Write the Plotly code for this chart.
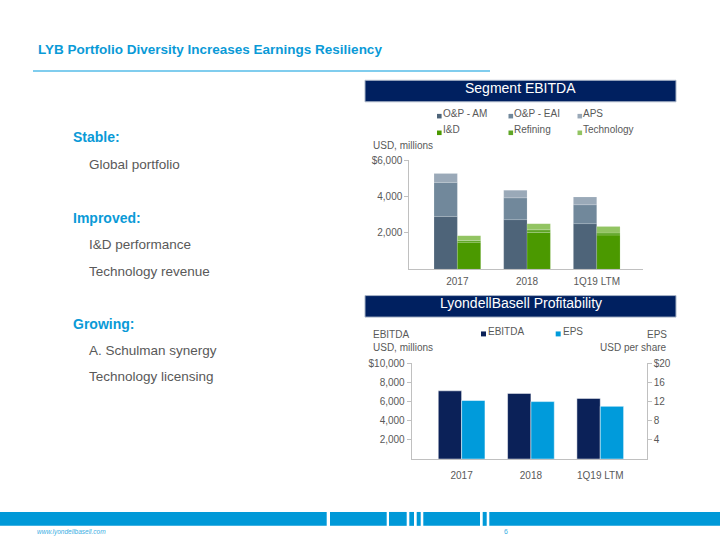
import numpy as np
import plotly.graph_objects as go

# ---------------- data ----------------
categories = ["2017", "2018", "1Q19 LTM"]

om_am = [2900, 2730, 2510]
om_eai = [1880, 1200, 1040]
aps = [490, 420, 430]
i_and_d = [1480, 2020, 1880]
refining = [100, 150, 120]
technology = [270, 340, 350]

ebitda = [7130, 6860, 6340]
eps = [12.23, 12.01, 11.02]

seg_tickvals = [2000, 4000, 6000]
seg_ticktext = ["2,000", "4,000", "$6,000"]
ebitda_tickvals = [2000, 4000, 6000, 8000, 10000]
ebitda_ticktext = ["2,000", "4,000", "6,000", "8,000", "$10,000"]
eps_tickvals = [4, 8, 12, 16, 20]
eps_ticktext = ["4", "8", "12", "16", "$20"]

# ---------------- styling ----------------
W, H = 720, 540
FONT = "Arial, Liberation Sans, sans-serif"
GREY_TXT = "#595959"
AXIS_COL = "#c0c0c0"
BLUE = "#0a9ad7"
NAVY = "#002060"

C_AM, C_EAI, C_APS = "#4e6479", "#71889b", "#9aa9b8"
C_ID, C_REF, C_TECH = "#4b9900", "#5fa626", "#92c462"
C_EBITDA, C_EPS = "#0b2158", "#009bdb"


def px(x):
    return x / W


def py(y):
    return 1 - y / H


fig = go.Figure()

# ---------------- Segment EBITDA (stacked, two stacks per category) ----------------
BW = 0.335
grey_series = [("O&P - AM", om_am, C_AM), ("O&P - EAI", om_eai, C_EAI), ("APS", aps, C_APS)]
green_series = [("I&D", i_and_d, C_ID), ("Refining", refining, C_REF), ("Technology", technology, C_TECH)]

for series, off in ((grey_series, -BW), (green_series, 0.0)):
    base = np.zeros(len(categories))
    for name, vals, col in series:
        fig.add_trace(go.Bar(
            x=categories, y=vals, base=base.tolist(), offset=off, width=BW,
            name=name, showlegend=False,
            marker=dict(color=col, line=dict(color="rgba(255,255,255,0.35)", width=0.4)),
            xaxis="x", yaxis="y",
        ))
        base = base + np.array(vals)

# ---------------- Profitability (EBITDA left axis, EPS right axis) ----------------
BW2 = 0.337
fig.add_trace(go.Bar(
    x=categories, y=ebitda, offset=-BW2, width=BW2, name="EBITDA", showlegend=False,
    marker=dict(color=C_EBITDA, line=dict(color="white", width=0.5)),
    xaxis="x2", yaxis="y2",
))
fig.add_trace(go.Bar(
    x=categories, y=eps, offset=0.0, width=BW2, name="EPS", showlegend=False,
    marker=dict(color=C_EPS, line=dict(color="white", width=0.5)),
    xaxis="x2", yaxis="y3",
))

tickfont = dict(family=FONT, size=10, color=GREY_TXT)
common_x = dict(type="category", showgrid=False, zeroline=False, showline=True,
                linecolor=AXIS_COL, linewidth=1, ticks="", tickfont=tickfont,
                fixedrange=True)
common_y = dict(showgrid=False, zeroline=False, showline=True, linecolor=AXIS_COL,
                linewidth=1, ticks="outside", ticklen=4, tickcolor=AXIS_COL,
                tickwidth=1, tickfont=tickfont, fixedrange=True)

fig.update_layout(
    width=W, height=H,
    margin=dict(l=0, r=0, t=0, b=0),
    paper_bgcolor="white", plot_bgcolor="rgba(0,0,0,0)",
    barmode="overlay",
    showlegend=False,
    xaxis=dict(common_x, domain=[px(409.3), px(642.7)], range=[-0.69, 2.66],
               anchor="y", ticklabelstandoff=3),
    yaxis=dict(common_y, domain=[py(266.7), py(156.7)], range=[0, 6000],
               tickvals=seg_tickvals, ticktext=seg_ticktext, anchor="x"),
    xaxis2=dict(common_x, domain=[px(411.7), px(646.7)], range=[-0.72, 2.67],
                anchor="y2", ticklabelstandoff=7),
    yaxis2=dict(common_y, domain=[py(458.3), py(361.7)], range=[0, 10000],
                tickvals=ebitda_tickvals, ticktext=ebitda_ticktext, anchor="x2"),
    yaxis3=dict(common_y, domain=[py(458.3), py(361.7)], range=[0, 20],
                tickvals=eps_tickvals, ticktext=eps_ticktext, anchor="x2",
                overlaying="y2", side="right"),
)

shapes = []
annotations = []


def text(x, y, s, size=10, color=GREY_TXT, anchor="left", bold=False, family=FONT, italic=False):
    if bold:
        s = "<b>" + s + "</b>"
    if italic:
        s = "<i>" + s + "</i>"
    # small corrections for annotation padding / vertical box centring
    dx = {"left": -1.5, "right": 1.5, "center": 0.0}[anchor]
    dy = -0.22 * size
    annotations.append(dict(
        x=px(x + dx), y=py(y + dy), xref="paper", yref="paper", text=s, showarrow=False,
        xanchor=anchor, yanchor="middle", font=dict(family=family, size=size, color=color),
    ))


def rect(x0, y0, x1, y1, fill, line=None, lw=0):
    shapes.append(dict(
        type="rect", xref="paper", yref="paper",
        x0=px(x0), x1=px(x1), y0=py(y1), y1=py(y0),
        fillcolor=fill, line=dict(color=line or fill, width=lw), layer="above",
    ))


# Title + rule
text(37, 47.5, "LYB Portfolio Diversity Increases Earnings Resiliency", size=13.5,
     color=BLUE, bold=True)
shapes.append(dict(type="line", xref="paper", yref="paper", x0=px(33), x1=px(490),
                   y0=py(66.7), y1=py(66.7), line=dict(color="#80cdee", width=2)))

# Left-hand bullets
text(72.5, 136.7, "Stable:", size=14, color=BLUE, bold=True)
text(88, 164.3, "Global portfolio", size=13.5)
text(72.5, 218.3, "Improved:", size=14, color=BLUE, bold=True)
text(88, 245, "I&D performance", size=13.5)
text(88, 271.7, "Technology revenue", size=13.5)
text(72.5, 325, "Growing:", size=14, color=BLUE, bold=True)
text(88, 351.7, "A. Schulman synergy", size=13.5)
text(88, 378.3, "Technology licensing", size=13.5)

# Header boxes
rect(365, 76, 676, 97.7, NAVY, line="#aab6c8", lw=1)
text(520.5, 87.2, "Segment EBITDA", size=14, color="white", anchor="center")
rect(365, 293.3, 676, 315, NAVY, line="#aab6c8", lw=1)
text(520.5, 304.3, "LyondellBasell Profitability", size=14, color="white", anchor="center")

# Segment legend (manual, 2 rows x 3 cols)
leg_cols = [437.0, 508.5, 577.5]
leg_rows = [111.5, 128.3]
for i, (name, _, col) in enumerate(grey_series + green_series):
    r, c = divmod(i, 3)
    x0 = leg_cols[c]
    y0 = leg_rows[r]
    rect(x0, y0 - 1.6, x0 + 4.6, y0 + 3.0, col)
    text(x0 + 5.2, y0, name, size=10)

# Axis captions
text(372.5, 144, "USD, millions", size=10)
text(372.5, 335, "EBITDA", size=10)
text(372.5, 347.7, "USD, millions", size=10)
text(667.5, 335, "EPS", size=10, anchor="right")
text(667.5, 347.7, "USD per share", size=10, anchor="right")

# Profitability legend
rect(481, 329.5, 486, 334.5, C_EBITDA)
text(487, 331.7, "EBITDA", size=10)
rect(555.7, 329.5, 560.7, 334.5, C_EPS)
text(562.5, 331.7, "EPS", size=10)

# Footer bar
for x0, x1 in [(0, 326.7), (330, 386.7), (389, 406.7), (409.3, 414), (416.7, 420.7),
               (423.3, 480), (482.7, 486.7), (489.3, 720)]:
    rect(x0, 511.7, x1, 525.7, "#0099d8")
text(36.5, 533.3, "www.lyondellbasell.com", size=6.5, color="#3aaee3", italic=True)
text(508, 533.3, "6", size=7, color="#3aaee3", anchor="right")

fig.update_layout(shapes=shapes, annotations=annotations)

fig.write_html(
    "out.html",
    config=dict(displayModeBar=False),
    post_script="document.body.style.margin='0px'; document.body.style.overflow='hidden';",
)
